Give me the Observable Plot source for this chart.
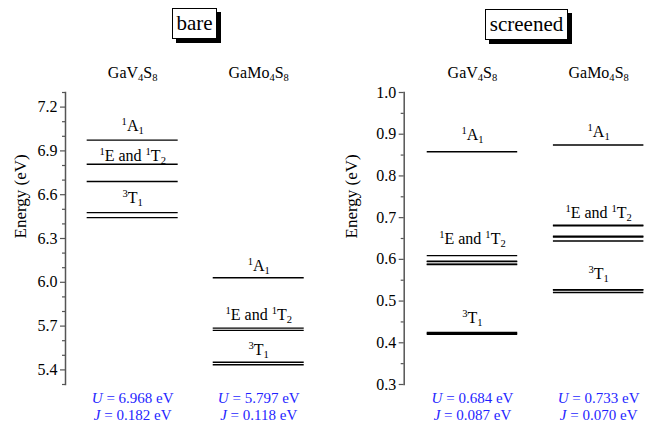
<!DOCTYPE html>
<html>
<head>
<meta charset="utf-8">
<script src="https://cdn.jsdelivr.net/npm/d3@7"></script>
<script src="https://cdn.jsdelivr.net/npm/@observablehq/plot@0.6"></script>
<style>
  body { margin: 0; background: white; }
  #root { position: relative; width: 662px; height: 424px; font-family: 'Liberation Serif', 'Times New Roman', Times, 'DejaVu Serif', serif; }
  .panel { position: absolute; top: 0; width: 331px; height: 424px; }
  .panel svg, .panel text { font-family: 'Liberation Serif', 'Times New Roman', Times, 'DejaVu Serif', serif !important; }
  .titlebox { position: absolute; background: white; border: 1px solid #000; box-shadow: 4px 4px 0 #000;
              font-family: 'Liberation Serif', 'Times New Roman', Times, 'DejaVu Serif', serif; font-size: 21px; line-height: 29px; text-align: center; box-sizing: border-box; }
</style>
</head>
<body>
<div id="root">
  <div id="left" class="panel" style="left:0"></div>
  <div id="right" class="panel" style="left:331px"></div>
  <div class="titlebox" style="left:172px; top:8px; width:45px; height:31px;">bare</div>
  <div class="titlebox" style="left:485px; top:9px; width:83px; height:31px;">screened</div>
</div>
<script>
// ---------- data ----------
const compounds = ["GaV4S8", "GaMo4S8"];
const compoundLabels = ["GaV_4S_8", "GaMo_4S_8"];
const stateLabels = ["^1A_1", "^1E and ^1T_2", "^3T_1"];

// bare energies (eV)
const bareGaV4S8 = [6.974, 6.809, 6.690, 6.477, 6.443];
const bareGaMo4S8 = [6.031, 5.686, 5.671, 5.452, 5.435];
const bareLabelGaV4S8 = [7.035, 6.828, 6.545];
const bareLabelGaMo4S8 = [6.075, 5.743, 5.500];
const bareTicks = [5.4, 5.7, 6.0, 6.3, 6.6, 6.9, 7.2];
const bareU = ["~U = 6.968 eV", "~U = 5.797 eV"];
const bareJ = ["~J = 0.182 eV", "~J = 0.118 eV"];

// screened energies (eV)
const scrGaV4S8 = [0.858, 0.609, 0.5955, 0.5945, 0.5885, 0.5875, 0.4245, 0.4225, 0.4205];
const scrGaMo4S8 = [0.874, 0.6820, 0.6805, 0.6555, 0.6535, 0.6440, 0.5275, 0.5265, 0.5205];
const scrLabelGaV4S8 = [0.886, 0.637, 0.448];
const scrLabelGaMo4S8 = [0.894, 0.698, 0.553];
const scrTicks = [0.3, 0.4, 0.5, 0.6, 0.7, 0.8, 0.9, 1.0];
const scrU = ["~U = 0.684 eV", "~U = 0.733 eV"];
const scrJ = ["~J = 0.087 eV", "~J = 0.070 eV"];

// ---------- helpers ----------
const FONT = "'Liberation Serif', 'Times New Roman', Times, 'DejaVu Serif', serif";
const rows = (arr, c) => arr.map(e => ({compound: c, energy: e}));
const labelRows = (arr, c) => arr.map((e, i) => ({compound: c, energy: e, label: stateLabels[i]}));

function richify(svg) {
  const ns = "http://www.w3.org/2000/svg";
  svg.querySelectorAll("text").forEach(t => {
    const s = t.textContent;
    if (!/[\^_~]/.test(s)) return;
    const fs = parseFloat(getComputedStyle(t).fontSize) || 16;
    while (t.firstChild) t.removeChild(t.firstChild);
    let buf = "";
    const flush = () => {
      if (buf) { const sp = document.createElementNS(ns, "tspan"); sp.textContent = buf; t.appendChild(sp); buf = ""; }
    };
    for (let i = 0; i < s.length; i++) {
      const c = s[i];
      if ((c === "^" || c === "_" || c === "~") && i + 1 < s.length) {
        flush();
        const sp = document.createElementNS(ns, "tspan");
        sp.textContent = s[i + 1];
        if (c === "~") sp.setAttribute("font-style", "italic");
        else {
          sp.setAttribute("font-size", (fs * 0.66).toFixed(2) + "px");
          sp.setAttribute("baseline-shift", (c === "^" ? fs * 0.38 : -fs * 0.2).toFixed(2) + "px");
        }
        t.appendChild(sp);
        i++;
      } else buf += c;
    }
    flush();
  });
}

function panel({levels, labels, domain, ticks, minor, U, J, marginLeft, marginRight, xopts}) {
  return Plot.plot({
    width: 331, height: 424,
    marginLeft, marginRight, marginTop: 92, marginBottom: 40,
    style: {fontFamily: FONT, fontSize: "16px", background: "transparent", color: "black"},
    x: {type: "band", domain: compounds, round: false, axis: null, ...xopts},
    y: {domain, label: null},
    marks: [
      Plot.axisY({ticks: minor, tickSize: 3, text: null, label: null, stroke: "#555", strokeWidth: 1.2}),
      Plot.axisY({ticks, tickSize: 5, tickPadding: 3, tickFormat: d3.format(".1f"), label: null,
                  stroke: "#555", strokeWidth: 1.2, fontSize: 16}),
      Plot.frame({anchor: "left", stroke: "#555", strokeWidth: 1.5}),
      Plot.tickY(levels, {x: "compound", y: "energy", stroke: "black", strokeWidth: 1.4}),
      Plot.text(labels, {x: "compound", y: "energy", text: "label", lineAnchor: "bottom", fontSize: 16}),
      Plot.text(compounds, {x: d => d, text: (d, i) => compoundLabels[i], frameAnchor: "top", lineAnchor: "bottom", dy: -15, fontSize: 16}),
      Plot.text(compounds, {x: d => d, text: (d, i) => U[i], frameAnchor: "bottom", lineAnchor: "bottom", dy: 18, fontSize: 15, fill: "#1f1fff"}),
      Plot.text(compounds, {x: d => d, text: (d, i) => J[i], frameAnchor: "bottom", lineAnchor: "bottom", dy: 35, fontSize: 15, fill: "#1f1fff"}),
      Plot.text(["Energy (eV)"], {frameAnchor: "left", rotate: -90, dx: -marginLeft + 20, fontSize: 17})
    ]
  });
}

const left = panel({
  levels: [...rows(bareGaV4S8, "GaV4S8"), ...rows(bareGaMo4S8, "GaMo4S8")],
  labels: [...labelRows(bareLabelGaV4S8, "GaV4S8"), ...labelRows(bareLabelGaMo4S8, "GaMo4S8")],
  domain: [5.3, 7.3],
  ticks: bareTicks,
  minor: d3.range(53, 74).map(v => v / 10).filter(v => !bareTicks.some(t => Math.abs(t - v) < 1e-6)),
  U: bareU, J: bareJ,
  marginLeft: 65, marginRight: 5.6,
  xopts: {paddingInner: 0.278, paddingOuter: 0.172, align: 0.5}
});
document.getElementById("left").appendChild(left);

const right = panel({
  levels: [...rows(scrGaV4S8, "GaV4S8"), ...rows(scrGaMo4S8, "GaMo4S8")],
  labels: [...labelRows(scrLabelGaV4S8, "GaV4S8"), ...labelRows(scrLabelGaMo4S8, "GaMo4S8")],
  domain: [0.3, 1.0],
  ticks: scrTicks,
  minor: d3.range(35, 100, 10).map(v => v / 100),
  U: scrU, J: scrJ,
  marginLeft: 72.7, marginRight: 0,
  xopts: {paddingInner: 0.283, paddingOuter: 0.165, align: 0.553}
});
document.getElementById("right").appendChild(right);

for (const svg of [left, right]) {
  svg.querySelectorAll("text").forEach(t => t.setAttribute("font-family", FONT));
  richify(svg);
}
</script>
</body>
</html>
